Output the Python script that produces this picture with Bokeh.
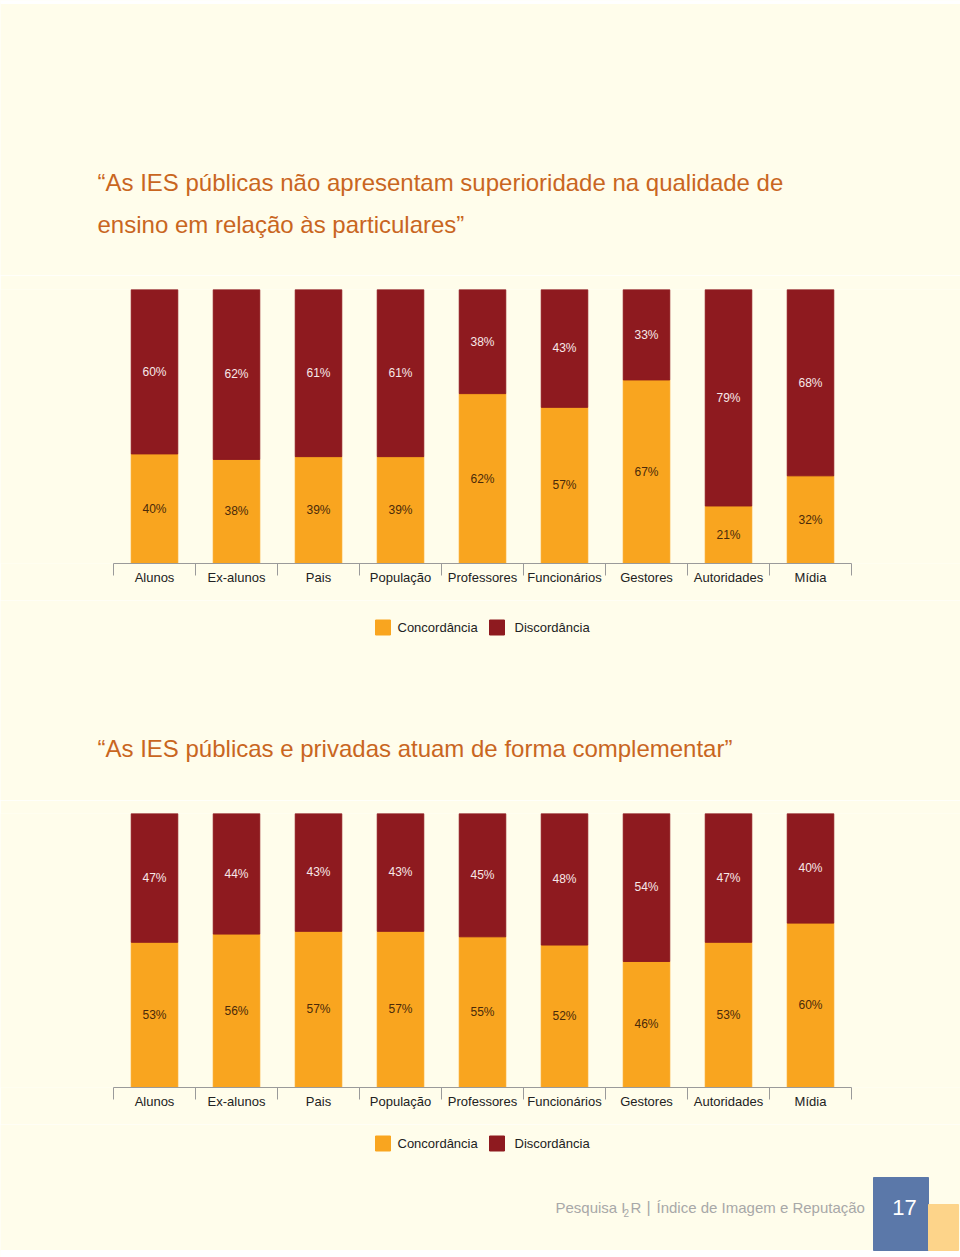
from bokeh.plotting import figure
from bokeh.layouts import column
from bokeh.models import Range1d, FixedTicker, LinearAxis, ColumnDataSource
from bokeh.core.properties import value
from bokeh.embed import file_html
from bokeh.resources import INLINE

# ---------------- data ----------------
categories = ["Alunos", "Ex-alunos", "Pais", "População", "Professores",
              "Funcionários", "Gestores", "Autoridades", "Mídia"]
series_names = ["Concordância", "Discordância"]

chart1_title = ["“As IES públicas não apresentam superioridade na qualidade de",
                "ensino em relação às particulares”"]
chart1_concordancia = [40, 38, 39, 39, 62, 57, 67, 21, 32]
chart1_discordancia = [60, 62, 61, 61, 38, 43, 33, 79, 68]

chart2_title = ["“As IES públicas e privadas atuam de forma complementar”"]
chart2_concordancia = [53, 56, 57, 57, 55, 52, 46, 53, 60]
chart2_discordancia = [47, 44, 43, 43, 45, 48, 54, 47, 40]

footer_parts = ["Pesquisa I", "2", "R", "|", "Índice de Imagem e Reputação"]
page_number = "17"

# ---------------- style ----------------
BG = "#FFFDEB"
ORANGE = "#F9A51F"
RED = "#8E1A1F"
SERIES_COLORS = [ORANGE, RED]
TITLE_C = "#C9661F"
FONT = "Liberation Sans"
W = 960
LEFT, RIGHT, STEP = 113, 109, 82   # pixel margins of the plot area, pixels per category


def canvas(h):
    p = figure(width=W, height=h, x_range=Range1d(0, W), y_range=Range1d(h, 0),
               x_axis_type=None, y_axis_type=None, toolbar_location=None,
               output_backend="svg", min_border=0, background_fill_color=BG,
               border_fill_color=BG, outline_line_color=None)
    p.grid.visible = False
    return p


def legend(p, y):
    # manual legend: swatch + label for each series
    p.quad(left=[375, 489], right=[390, 504], top=[y - 7.5, y - 7.5],
           bottom=[y + 7.5, y + 7.5], color=SERIES_COLORS)
    p.text(x=[397, 514], y=[y, y], text=series_names, text_font=value(FONT),
           text_font_size="13px", text_color="#222222", text_baseline="middle",
           text_align="left")


def chart(conc, disc, top, bottom):
    n = len(categories)
    src = ColumnDataSource(dict(
        x=list(range(n)), conc=conc, disc=disc,
        conc_y=[c / 2 for c in conc],
        disc_y=[c + d / 2 for c, d in zip(conc, disc)],
        conc_t=[f"{v}%" for v in conc],
        disc_t=[f"{v}%" for v in disc],
    ))
    p = figure(width=W, height=top + 274 + bottom,
               x_range=Range1d(-0.5 - LEFT / STEP, n - 0.5 + RIGHT / STEP),
               y_range=Range1d(0, 100),
               x_axis_type=None, y_axis_type=None, toolbar_location=None,
               output_backend="svg", min_border_left=0, min_border_right=0,
               min_border_top=top, min_border_bottom=bottom,
               background_fill_color=BG, border_fill_color=BG, outline_line_color=None)
    p.grid.visible = False
    p.vbar_stack(["conc", "disc"], x="x", width=46.5 / STEP, color=SERIES_COLORS, source=src)
    p.text(x="x", y="conc_y", text="conc_t", source=src, text_align="center",
           text_baseline="middle", text_font=value(FONT), text_font_size="12px",
           text_color="#4A2A0A")
    p.text(x="x", y="disc_y", text="disc_t", source=src, text_align="center",
           text_baseline="middle", text_font=value(FONT), text_font_size="12px",
           text_color="#F7E8E8")
    ax = LinearAxis(
        ticker=FixedTicker(ticks=list(range(n)), minor_ticks=[i - 0.5 for i in range(n + 1)]),
        bounds=(-0.5, n - 0.5),
        major_label_overrides={i: c for i, c in enumerate(categories)},
        major_tick_out=0, major_tick_in=0, minor_tick_out=12, minor_tick_in=0,
        axis_line_color="#9A9A9A", minor_tick_line_color="#9A9A9A",
        major_label_standoff=-6, major_label_text_font=FONT,
        major_label_text_font_size="13px", major_label_text_color="#222222")
    p.add_layout(ax, "below")
    return p


# header with title 1 (page 0 -> 275)
A = canvas(275)
A.quad(left=[0], right=[W], top=[0], bottom=[3], color="white")
A.text(x=[97, 97], y=[182, 224], text=chart1_title, text_font=value(FONT),
       text_font_size="24px", text_color=TITLE_C, text_baseline="middle", text_align="left")

# chart 1 (page 275 -> 600)
B = chart(chart1_concordancia, chart1_discordancia, 14, 37)

# legend 1 + title 2 (page 600 -> 800)
C = canvas(200)
legend(C, 27)
C.text(x=[97], y=[148], text=chart2_title, text_font=value(FONT),
       text_font_size="24px", text_color=TITLE_C, text_baseline="middle", text_align="left")

# chart 2 (page 800 -> 1124)
D = chart(chart2_concordancia, chart2_discordancia, 13, 37)

# legend 2 + footer (page 1124 -> 1257)
E = canvas(133)
legend(E, 19)
E.quad(left=[0], right=[W], top=[126], bottom=[133], color="white")
E.quad(left=[873], right=[928], top=[53], bottom=[126], color="#5B78A9")
E.quad(left=[928], right=[958], top=[80], bottom=[126], color="#FDD48A")
E.text(x=[904], y=[83], text=[page_number], text_font=value(FONT), text_font_size="22px",
       text_color="white", text_align="center", text_baseline="middle")
E.text(x=[555, 623, 630, 646, 656], y=[83, 88, 83, 83, 83], text=footer_parts,
       text_font=value(FONT), text_font_size=["15px", "10px", "15px", "16px", "15px"],
       text_color="#A8A8A8", text_align="left", text_baseline="middle")

layout = column(A, B, C, D, E, spacing=0)
open("out.html", "w").write(file_html(layout, INLINE))
